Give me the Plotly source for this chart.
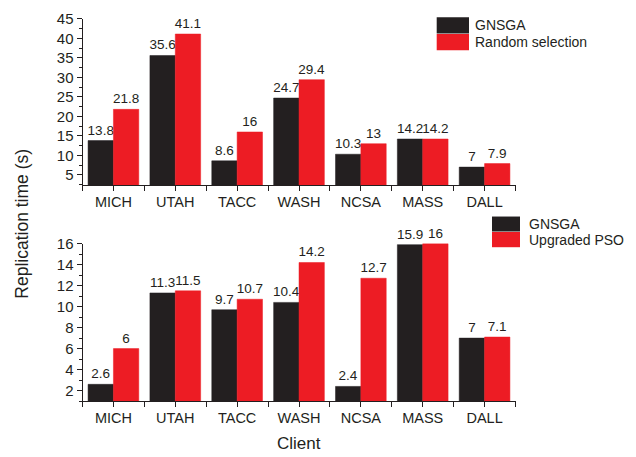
import plotly.graph_objects as go

clients = ["MICH", "UTAH", "TACC", "WASH", "NCSA", "MASS", "DALL"]
top_gnsga = [13.8, 35.6, 8.6, 24.7, 10.3, 14.2, 7]
top_random = [21.8, 41.1, 16, 29.4, 13, 14.2, 7.9]
bot_gnsga = [2.6, 11.3, 9.7, 10.4, 2.4, 15.9, 7]
bot_pso = [6, 11.5, 10.7, 14.2, 12.7, 16, 7.1]

W, H = 636, 457
BLACK = "#231F20"
RED = "#ED1C24"
TXT = "#231F20"
FONT = "Liberation Sans, Arial, sans-serif"

pos = list(range(len(clients)))
bounds = [p - 0.5 for p in pos] + [pos[-1] + 0.5]


def px_x(x):
    return x / W


def px_y(y):
    return 1 - y / H


def fmt(v):
    return ("%g" % v)


fig = go.Figure()


def add_bars(y, color, xa, ya, name):
    fig.add_trace(go.Bar(
        x=pos, y=y, name=name, xaxis=xa, yaxis=ya,
        marker=dict(color=color, line=dict(color=color, width=0.5)),
        text=[fmt(v) for v in y], textposition="outside",
        textfont=dict(size=13.5, color=TXT, family=FONT),
        constraintext="none", cliponaxis=False, showlegend=False,
    ))


add_bars(top_gnsga, BLACK, "x", "y", "GNSGA")
add_bars(top_random, RED, "x", "y", "Random selection")
add_bars(bot_gnsga, BLACK, "x2", "y2", "GNSGA")
add_bars(bot_pso, RED, "x2", "y2", "Upgraded PSO")

xdom = [px_x(82.5), px_x(515.5)]
axis_common = dict(
    showline=True, linecolor=TXT, linewidth=1, showgrid=False, zeroline=False,
    ticks="outside", ticklen=5, tickwidth=1, tickcolor=TXT,
)
xaxis_common = dict(axis_common, range=[bounds[0], bounds[-1]],
                    tickmode="array", tickvals=pos + bounds,
                    ticktext=clients + [""] * len(bounds),
                    ticklabelstandoff=-2,
                    tickfont=dict(size=14.5, color=TXT, family=FONT))
ytick_font = dict(size=15, color=TXT, family=FONT)

fig.update_layout(
    width=W, height=H,
    margin=dict(l=0, r=0, t=0, b=0),
    paper_bgcolor="white", plot_bgcolor="white",
    barmode="group", bargap=0.18, bargroupgap=0,
    font=dict(family=FONT, color=TXT),
    xaxis=dict(xaxis_common, domain=xdom, anchor="y"),
    yaxis=dict(axis_common, domain=[px_y(180), px_y(10)], range=[2.3, 45],
               tickmode="linear", tick0=5, dtick=5, anchor="x", tickfont=ytick_font,
               minor=dict(ticks="outside", ticklen=3, tickwidth=1, tickcolor=TXT,
                          tickmode="linear", dtick=2.5, tick0=0)),
    xaxis2=dict(xaxis_common, domain=xdom, anchor="y2"),
    yaxis2=dict(axis_common, domain=[px_y(400), px_y(239.3)], range=[1, 16],
                tickmode="linear", tick0=2, dtick=2, anchor="x2", tickfont=ytick_font,
                minor=dict(ticks="outside", ticklen=3, tickwidth=1, tickcolor=TXT,
                           tickmode="linear", dtick=1, tick0=0)),
)

annotations = [
    dict(text="Replication time (s)", x=px_x(22), y=px_y(219), xref="paper", yref="paper",
         textangle=-90, showarrow=False, font=dict(size=17.5, color=TXT, family=FONT),
         xanchor="center", yanchor="middle"),
    dict(text="Client", x=px_x(299), y=px_y(443), xref="paper", yref="paper",
         showarrow=False, font=dict(size=17, color=TXT, family=FONT),
         xanchor="center", yanchor="middle"),
]

shapes = []


def legend_entry(x0, x1, y0, y1, color, label, tx):
    shapes.append(dict(type="rect", xref="paper", yref="paper",
                       x0=px_x(x0), x1=px_x(x1), y0=px_y(y1), y1=px_y(y0),
                       fillcolor=color, line=dict(width=0)))
    annotations.append(dict(text=label, x=px_x(tx), y=px_y((y0 + y1) / 2),
                            xref="paper", yref="paper", showarrow=False,
                            xanchor="left", yanchor="middle",
                            font=dict(size=14, color=TXT, family=FONT)))


legend_entry(436.7, 469, 8.3, 25, BLACK, "GNSGA", 473)
legend_entry(436.7, 469, 25.5, 42, RED, "Random selection", 473)
legend_entry(492, 520, 211.7, 227, BLACK, "GNSGA", 526.5)
legend_entry(492, 520, 227.5, 243, RED, "Upgraded PSO", 526.5)

fig.update_layout(annotations=annotations, shapes=shapes)

fig.write_html("out.html")
